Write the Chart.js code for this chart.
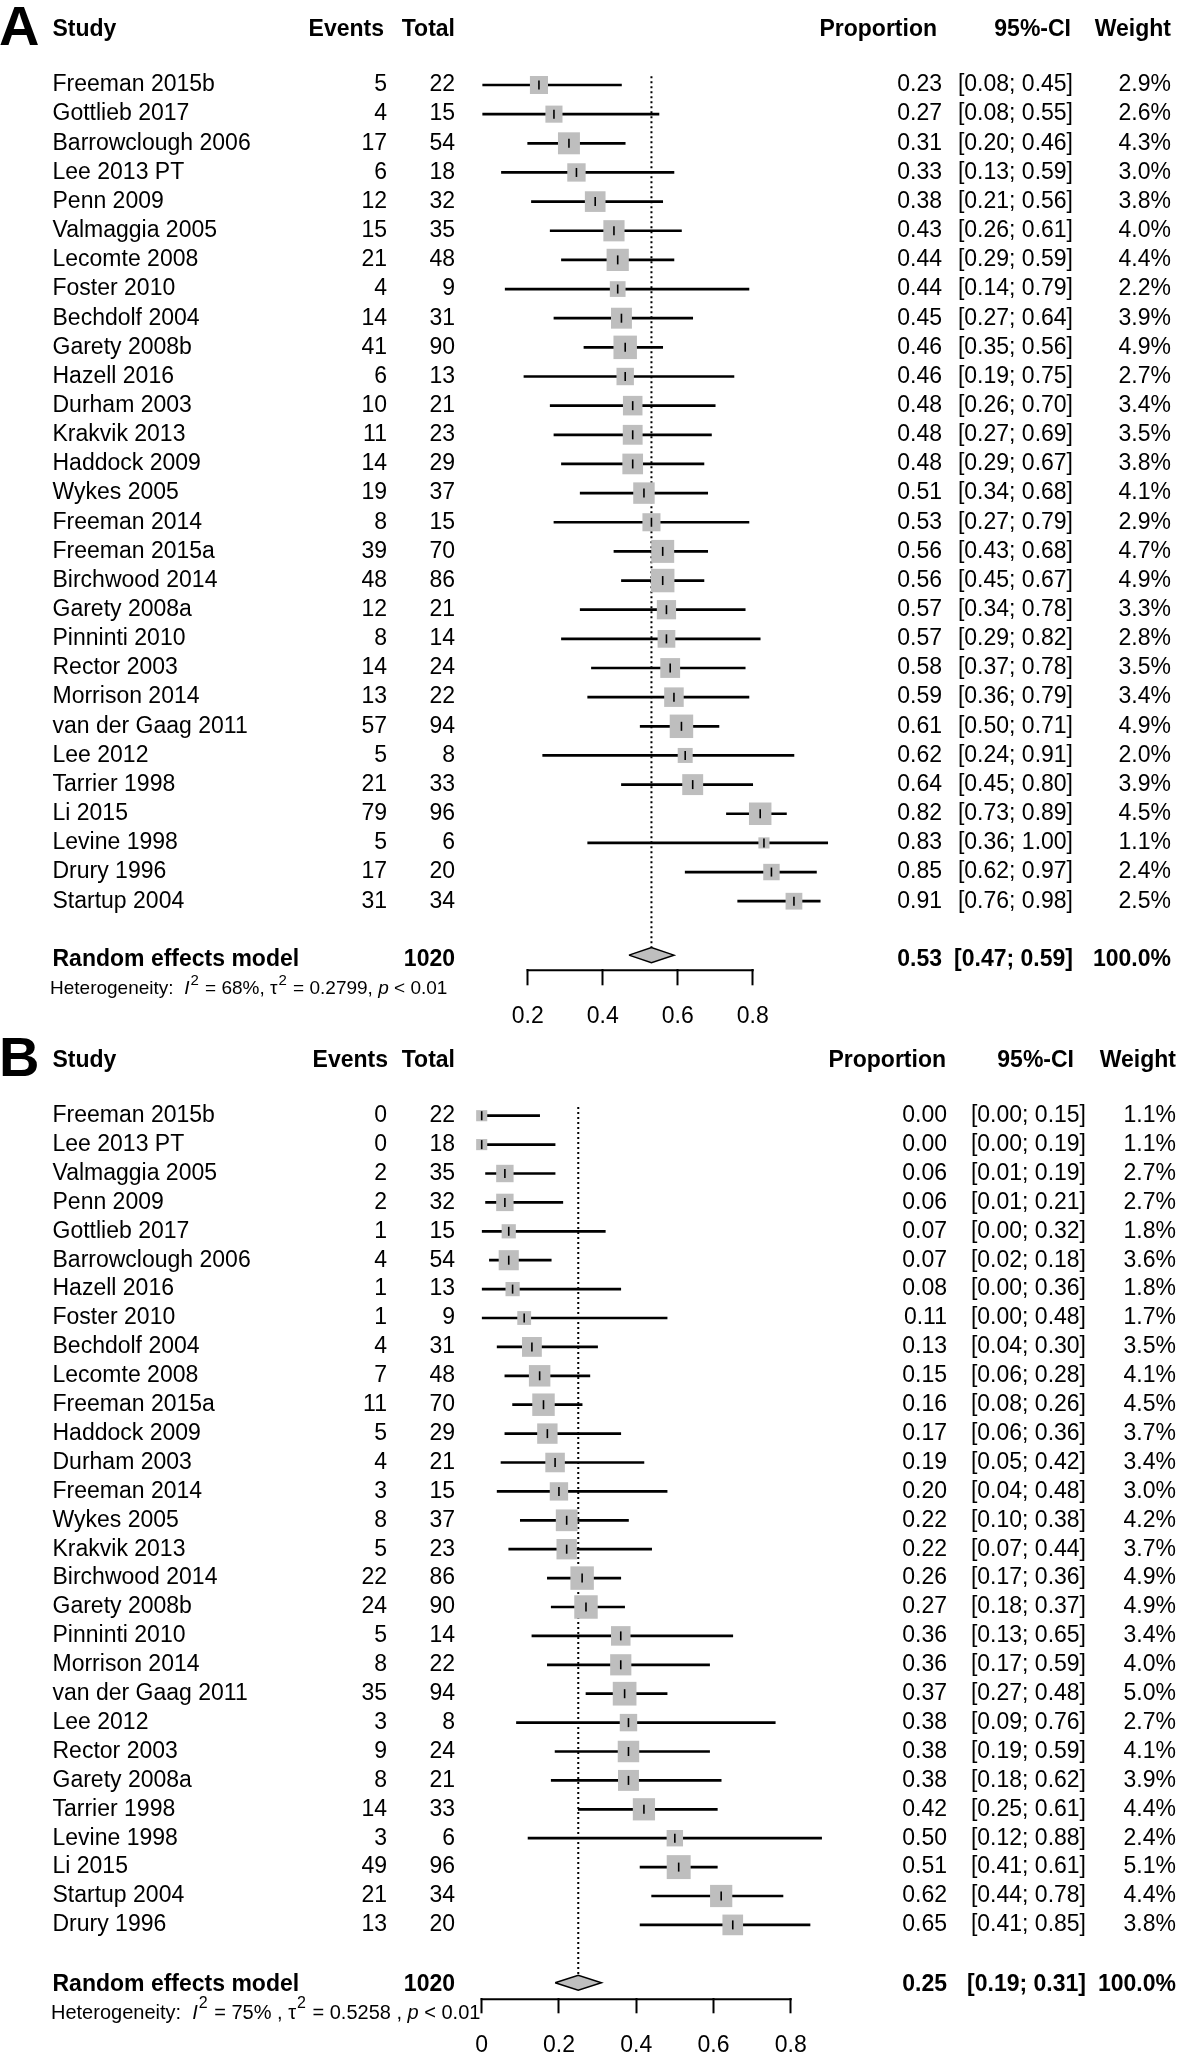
<!DOCTYPE html>
<html>
<head>
<meta charset="utf-8">
<title>Forest plots</title>
<script src="https://cdn.jsdelivr.net/npm/chart.js@4.4.0/dist/chart.umd.min.js"></script>
<style>
  body { margin: 0; background: #fff; }
  canvas { position: absolute; left: 0; }
  #chartA { top: 0; }
  #chartB { top: 1010px; }
</style>
</head>
<body>
<canvas id="chartA" width="1181" height="1040"></canvas>
<canvas id="chartB" width="1181" height="1049"></canvas>
<script>
// ---------- Panel A data ----------
const studiesA = ['Freeman 2015b', 'Gottlieb 2017', 'Barrowclough 2006', 'Lee 2013 PT', 'Penn 2009',
  'Valmaggia 2005', 'Lecomte 2008', 'Foster 2010', 'Bechdolf 2004', 'Garety 2008b', 'Hazell 2016',
  'Durham 2003', 'Krakvik 2013', 'Haddock 2009', 'Wykes 2005', 'Freeman 2014', 'Freeman 2015a',
  'Birchwood 2014', 'Garety 2008a', 'Pinninti 2010', 'Rector 2003', 'Morrison 2014',
  'van der Gaag 2011', 'Lee 2012', 'Tarrier 1998', 'Li 2015', 'Levine 1998', 'Drury 1996', 'Startup 2004'];
const eventsA = [5, 4, 17, 6, 12, 15, 21, 4, 14, 41, 6, 10, 11, 14, 19, 8, 39, 48, 12, 8, 14, 13, 57, 5, 21, 79, 5, 17, 31];
const totalA = [22, 15, 54, 18, 32, 35, 48, 9, 31, 90, 13, 21, 23, 29, 37, 15, 70, 86, 21, 14, 24, 22, 94, 8, 33, 96, 6, 20, 34];
const propA = [0.23, 0.27, 0.31, 0.33, 0.38, 0.43, 0.44, 0.44, 0.45, 0.46, 0.46, 0.48, 0.48, 0.48, 0.51,
  0.53, 0.56, 0.56, 0.57, 0.57, 0.58, 0.59, 0.61, 0.62, 0.64, 0.82, 0.83, 0.85, 0.91];
const lowerA = [0.08, 0.08, 0.20, 0.13, 0.21, 0.26, 0.29, 0.14, 0.27, 0.35, 0.19, 0.26, 0.27, 0.29, 0.34,
  0.27, 0.43, 0.45, 0.34, 0.29, 0.37, 0.36, 0.50, 0.24, 0.45, 0.73, 0.36, 0.62, 0.76];
const upperA = [0.45, 0.55, 0.46, 0.59, 0.56, 0.61, 0.59, 0.79, 0.64, 0.56, 0.75, 0.70, 0.69, 0.67, 0.68,
  0.79, 0.68, 0.67, 0.78, 0.82, 0.78, 0.79, 0.71, 0.91, 0.80, 0.89, 1.00, 0.97, 0.98];
const weightA = [2.9, 2.6, 4.3, 3.0, 3.8, 4.0, 4.4, 2.2, 3.9, 4.9, 2.7, 3.4, 3.5, 3.8, 4.1,
  2.9, 4.7, 4.9, 3.3, 2.8, 3.5, 3.4, 4.9, 2.0, 3.9, 4.5, 1.1, 2.4, 2.5];
const pooledA = [0.53, 0.47, 0.59];
const hetA = ['68%', '0.2799', '0.01'];
const ticksA = [0.2, 0.4, 0.6, 0.8];

// ---------- Panel B data ----------
const studiesB = ['Freeman 2015b', 'Lee 2013 PT', 'Valmaggia 2005', 'Penn 2009', 'Gottlieb 2017',
  'Barrowclough 2006', 'Hazell 2016', 'Foster 2010', 'Bechdolf 2004', 'Lecomte 2008', 'Freeman 2015a',
  'Haddock 2009', 'Durham 2003', 'Freeman 2014', 'Wykes 2005', 'Krakvik 2013', 'Birchwood 2014',
  'Garety 2008b', 'Pinninti 2010', 'Morrison 2014', 'van der Gaag 2011', 'Lee 2012', 'Rector 2003',
  'Garety 2008a', 'Tarrier 1998', 'Levine 1998', 'Li 2015', 'Startup 2004', 'Drury 1996'];
const eventsB = [0, 0, 2, 2, 1, 4, 1, 1, 4, 7, 11, 5, 4, 3, 8, 5, 22, 24, 5, 8, 35, 3, 9, 8, 14, 3, 49, 21, 13];
const totalB = [22, 18, 35, 32, 15, 54, 13, 9, 31, 48, 70, 29, 21, 15, 37, 23, 86, 90, 14, 22, 94, 8, 24, 21, 33, 6, 96, 34, 20];
const propB = [0.00, 0.00, 0.06, 0.06, 0.07, 0.07, 0.08, 0.11, 0.13, 0.15, 0.16, 0.17, 0.19, 0.20, 0.22,
  0.22, 0.26, 0.27, 0.36, 0.36, 0.37, 0.38, 0.38, 0.38, 0.42, 0.50, 0.51, 0.62, 0.65];
const lowerB = [0.00, 0.00, 0.01, 0.01, 0.00, 0.02, 0.00, 0.00, 0.04, 0.06, 0.08, 0.06, 0.05, 0.04, 0.10,
  0.07, 0.17, 0.18, 0.13, 0.17, 0.27, 0.09, 0.19, 0.18, 0.25, 0.12, 0.41, 0.44, 0.41];
const upperB = [0.15, 0.19, 0.19, 0.21, 0.32, 0.18, 0.36, 0.48, 0.30, 0.28, 0.26, 0.36, 0.42, 0.48, 0.38,
  0.44, 0.36, 0.37, 0.65, 0.59, 0.48, 0.76, 0.59, 0.62, 0.61, 0.88, 0.61, 0.78, 0.85];
const weightB = [1.1, 1.1, 2.7, 2.7, 1.8, 3.6, 1.8, 1.7, 3.5, 4.1, 4.5, 3.7, 3.4, 3.0, 4.2,
  3.7, 4.9, 4.9, 3.4, 4.0, 5.0, 2.7, 4.1, 3.9, 4.4, 2.4, 5.1, 4.4, 3.8];
const pooledB = [0.25, 0.19, 0.31];
const hetB = ['75% ', '0.5258 ', '0.01'];
const ticksB = [0, 0.2, 0.4, 0.6, 0.8];

// ---------- layout (pixels, relative to each canvas) ----------
const FONT = "'Liberation Sans', Arial, Helvetica, sans-serif";
const layoutA = {
  letter: 'A', height: 1040, firstRowY: 85, pitch: 29.15, axisY: 969.3, pooledRow: 29.85, pooledTextDy: 5,
  axisLeft: 527.7, axisRight: 752.7, viewMin: 0, viewMax: 1.1,
  tickLen: 16, tickPad: 18, hetFont: 19,
  colStudy: 52.5, colEvents: 387, colTotal: 455, colProp: 942, colCI: 1073, colWeight: 1171,
  hdrEvents: 384, hdrProp: 937, hdrCI: 1071, hdrWeight: 1171, hetX: 50, hetY: 989
};
const layoutB = {
  letter: 'B', height: 1049, firstRowY: 105.7, pitch: 28.9, axisY: 988.3, pooledRow: 30.0, pooledTextDy: 2,
  axisLeft: 481.7, axisRight: 790.7, viewMin: -0.1, viewMax: 1.0,
  tickLen: 15, tickPad: 19, hetFont: 20,
  colStudy: 52.5, colEvents: 387, colTotal: 455, colProp: 947, colCI: 1086, colWeight: 1176,
  hdrEvents: 388, hdrProp: 946, hdrCI: 1074, hdrWeight: 1176, hetX: 51, hetY: 1003
};

const SQUARE_K = 10.6;     // square side = k * sqrt(weight)
const DIAMOND_HALF = 0.26; // in row units
const GREY = '#bebebe';

// draws a run of text pieces, some italic, some superscript
function drawRich(ctx, x, y, size, parts) {
  parts.forEach(([txt, style]) => {
    if (style === 'sup') {
      ctx.font = Math.round(size * 0.78) + 'px ' + FONT;
      ctx.fillText(txt, x + 1, y - size * 0.45);
      x += ctx.measureText(txt).width + 2;
    } else {
      ctx.font = (style === 'it' ? 'italic ' : '') + size + 'px ' + FONT;
      ctx.fillText(txt, x, y);
      x += ctx.measureText(txt).width;
    }
  });
}

function textPlugin(lay, d) {
  return {
    id: 'forestText' + lay.letter,
    afterDraw(chart) {
      const ctx = chart.ctx;
      const ys = chart.scales.y;
      const xs = chart.scales.x;
      const rowY = i => ys.getPixelForValue(i);
      const put = (txt, x, y, align, bold) => {
        ctx.font = (bold ? 'bold ' : '') + '23px ' + FONT;
        ctx.textAlign = align;
        ctx.fillText(txt, x, y);
      };
      ctx.save();

      // axis line only between the first and last tick
      ctx.strokeStyle = '#000';
      ctx.lineWidth = 2;
      ctx.beginPath();
      ctx.moveTo(xs.getPixelForValue(d.ticks[0]) - 1, xs.top + 1);
      ctx.lineTo(xs.getPixelForValue(d.ticks[d.ticks.length - 1]) + 1, xs.top + 1);
      ctx.stroke();

      ctx.fillStyle = '#000';
      ctx.textBaseline = 'middle';

      // panel letter and header
      const hy = rowY(-55 / lay.pitch);
      ctx.font = 'bold 56px ' + FONT;
      ctx.textAlign = 'left';
      ctx.fillText(lay.letter, -1, hy);
      put('Study', lay.colStudy, hy, 'left', true);
      put('Events', lay.hdrEvents, hy, 'right', true);
      put('Total', lay.colTotal, hy, 'right', true);
      put('Proportion', lay.hdrProp, hy, 'right', true);
      put('95%-CI', lay.hdrCI, hy, 'right', true);
      put('Weight', lay.hdrWeight, hy, 'right', true);

      // study rows
      d.studies.forEach((s, i) => {
        const y = rowY(i);
        put(s, lay.colStudy, y, 'left', false);
        put(String(d.events[i]), lay.colEvents, y, 'right', false);
        put(String(d.total[i]), lay.colTotal, y, 'right', false);
        put(d.prop[i].toFixed(2), lay.colProp, y, 'right', false);
        put('[' + d.lower[i].toFixed(2) + '; ' + d.upper[i].toFixed(2) + ']', lay.colCI, y, 'right', false);
        put(d.weight[i].toFixed(1) + '%', lay.colWeight, y, 'right', false);
      });

      // pooled row
      const py = rowY(lay.pooledRow) + lay.pooledTextDy;
      const n = d.total.reduce((a, b) => a + b, 0);
      put('Random effects model', lay.colStudy, py, 'left', true);
      put(String(n), lay.colTotal, py, 'right', true);
      put(d.pooled[0].toFixed(2), lay.colProp, py, 'right', true);
      put('[' + d.pooled[1].toFixed(2) + '; ' + d.pooled[2].toFixed(2) + ']', lay.colCI, py, 'right', true);
      put('100.0%', lay.colWeight, py, 'right', true);

      // heterogeneity line
      ctx.textAlign = 'left';
      drawRich(ctx, lay.hetX, lay.hetY, lay.hetFont, [
        ['Heterogeneity:  ', ''], ['I', 'it'], ['2', 'sup'], [' = ' + d.het[0] + ', ', ''],
        ['\u03c4', ''], ['2', 'sup'], [' = ' + d.het[1] + ', ', ''], ['p', 'it'], [' < ' + d.het[2], '']
      ]);
      ctx.restore();
    }
  };
}

function makeForest(canvasId, lay, d) {
  const rows = d.studies.map((_, i) => i);
  const yMin = -lay.firstRowY / lay.pitch;
  const yMax = (lay.axisY - lay.firstRowY) / lay.pitch;
  const [est, lo, hi] = d.pooled;
  const pr = lay.pooledRow;

  // plot area is wider than the drawn axis so that marks beyond the ticks are kept
  const t0 = d.ticks[0], t1 = d.ticks[d.ticks.length - 1];
  const pxPerUnit = (lay.axisRight - lay.axisLeft) / (t1 - t0);
  const areaLeft = lay.axisLeft - (t0 - lay.viewMin) * pxPerUnit;
  const areaRight = lay.axisLeft + (lay.viewMax - t0) * pxPerUnit;

  return new Chart(document.getElementById(canvasId), {
    type: 'scatter',
    data: {
      datasets: [
        { // point estimate tick inside square
          type: 'scatter', indexAxis: 'y',
          data: rows.map(i => ({ x: d.prop[i], y: i })),
          pointStyle: 'line', rotation: 90, pointRadius: 4.5,
          borderColor: '#000', borderWidth: 1.6, clip: false
        },
        { // weighted squares
          type: 'scatter', indexAxis: 'y',
          data: rows.map(i => ({ x: d.prop[i], y: i })),
          pointStyle: 'rect',
          pointRadius: rows.map(i => SQUARE_K * Math.sqrt(d.weight[i]) / Math.SQRT2),
          backgroundColor: GREY, borderWidth: 0, clip: false
        },
        { // confidence intervals
          type: 'bar', indexAxis: 'y',
          data: rows.map(i => ({ x: [d.lower[i], d.upper[i]], y: i })),
          barThickness: 2, backgroundColor: '#000', borderWidth: 0, clip: false
        },
        { // pooled diamond
          type: 'line',
          data: [{ x: lo, y: pr }, { x: est, y: pr - DIAMOND_HALF }, { x: hi, y: pr },
                 { x: est, y: pr + DIAMOND_HALF }, { x: lo, y: pr }],
          borderColor: '#000', borderWidth: 1.5, backgroundColor: GREY,
          fill: 'shape', pointRadius: 0, tension: 0, clip: false
        },
        { // dotted line at pooled estimate
          type: 'line', indexAxis: 'y',
          data: [{ x: est, y: -0.3 }, { x: est, y: pr - DIAMOND_HALF }],
          borderColor: '#000', borderWidth: 2, borderDash: [2, 3],
          pointRadius: 0, fill: false, clip: false
        }
      ]
    },
    options: {
      responsive: false,
      animation: false,
      events: [],
      layout: {
        autoPadding: false,
        padding: { left: areaLeft, right: 1181 - areaRight, top: 0, bottom: 0 }
      },
      plugins: { legend: { display: false }, tooltip: { enabled: false } },
      scales: {
        x: {
          type: 'linear', position: 'bottom', offset: false,
          min: lay.viewMin, max: lay.viewMax,
          afterBuildTicks: s => { s.ticks = d.ticks.map(v => ({ value: v })); },
          afterFit: s => { s.height = lay.height - lay.axisY; },
          border: { display: false },
          grid: { offset: false, drawOnChartArea: false, drawTicks: true, tickLength: lay.tickLen,
                  tickColor: '#000', tickWidth: 2, color: '#000' },
          ticks: { color: '#000', padding: lay.tickPad, maxRotation: 0, autoSkip: false,
                   font: { family: FONT, size: 23 } }
        },
        y: { type: 'linear', display: false, reverse: true, offset: false,
             grid: { offset: false }, min: yMin, max: yMax }
      }
    },
    plugins: [textPlugin(lay, d)]
  });
}

makeForest('chartA', layoutA, {
  studies: studiesA, events: eventsA, total: totalA, prop: propA, lower: lowerA,
  upper: upperA, weight: weightA, pooled: pooledA, het: hetA, ticks: ticksA
});
makeForest('chartB', layoutB, {
  studies: studiesB, events: eventsB, total: totalB, prop: propB, lower: lowerB,
  upper: upperB, weight: weightB, pooled: pooledB, het: hetB, ticks: ticksB
});
</script>
</body>
</html>
